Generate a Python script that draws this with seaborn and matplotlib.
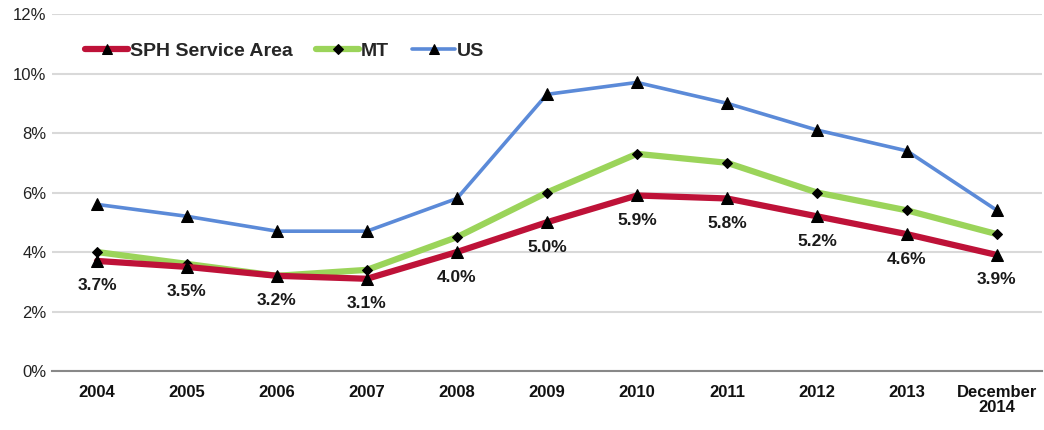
import seaborn as sns
import matplotlib.pyplot as plt
import pandas as pd
import warnings
warnings.filterwarnings("ignore")

years = ["2004", "2005", "2006", "2007", "2008", "2009", "2010", "2011", "2012", "2013", "December\n2014"]
sph = [3.7, 3.5, 3.2, 3.1, 4.0, 5.0, 5.9, 5.8, 5.2, 4.6, 3.9]
mt = [4.0, 3.6, 3.2, 3.4, 4.5, 6.0, 7.3, 7.0, 6.0, 5.4, 4.6]
us = [5.6, 5.2, 4.7, 4.7, 5.8, 9.3, 9.7, 9.0, 8.1, 7.4, 5.4]

sns.set_style("white")
plt.rcParams['font.family'] = ['Liberation Sans', 'DejaVu Sans']

df = pd.DataFrame({"pos": range(len(years)), "SPH": sph, "MT": mt, "US": us})

fig = plt.figure(figsize=(10.44, 4.3), dpi=100)
ax = fig.add_axes([0.0498, 0.1372, 0.9482, 0.8302])

# series: US behind, then MT, SPH on top
sns.lineplot(data=df, x="pos", y="US", ax=ax, color="#5B8AD8", linewidth=2.6,
             marker="^", markersize=8.5, markerfacecolor="black", markeredgecolor="black",
             label="US", zorder=3)
sns.lineplot(data=df, x="pos", y="MT", ax=ax, color="#9BD45A", linewidth=4.5,
             marker="D", markersize=5.5, markerfacecolor="black", markeredgecolor="black",
             label="MT", zorder=4)
sns.lineplot(data=df, x="pos", y="SPH", ax=ax, color="#BE1238", linewidth=4.5,
             marker="^", markersize=8.5, markerfacecolor="black", markeredgecolor="black",
             label="SPH Service Area", zorder=5)

for i, v in enumerate(sph):
    ax.annotate(f"{v:.1f}%", (i, v), xytext=(0, -18), textcoords="offset points",
                ha="center", va="center", fontsize=12.5, fontweight="bold", color="#1a1a1a")

ax.set_xlim(-0.5, len(years) - 0.5)
ax.set_ylim(0, 12)
ax.set_yticks(range(0, 13, 2))
ax.set_yticklabels([f"{t}%" for t in range(0, 13, 2)], fontsize=12, color="#222222")
ax.set_xticks(range(len(years)))
ax.set_xticklabels(years, fontsize=12, fontweight="bold", color="#111111", linespacing=1.05)
ax.set_xticks([i - 0.5 for i in range(len(years) + 1)], minor=True)
ax.tick_params(axis="x", which="major", length=0, pad=10)
ax.tick_params(axis="x", which="minor", length=6, color="#888888", width=1)
ax.tick_params(axis="y", length=0, pad=4)
ax.set_xlabel("")
ax.set_ylabel("")

ax.yaxis.grid(True, color="#D9D9D9", linewidth=1.5)
ax.set_axisbelow(True)
for s in ["top", "right", "left"]:
    ax.spines[s].set_visible(False)
ax.spines["bottom"].set_color("#888888")
ax.spines["bottom"].set_linewidth(1.5)

handles, labels = ax.get_legend_handles_labels()
order = [2, 1, 0]
ax.legend([handles[i] for i in order], [labels[i] for i in order], loc="upper left",
          bbox_to_anchor=(0.016, 0.97), ncol=3, frameon=False, handlelength=2.2,
          handletextpad=0.1, columnspacing=1.2, markerscale=0.85,
          prop={"weight": "bold", "size": 14})

fig.savefig("out.png", dpi=100)
